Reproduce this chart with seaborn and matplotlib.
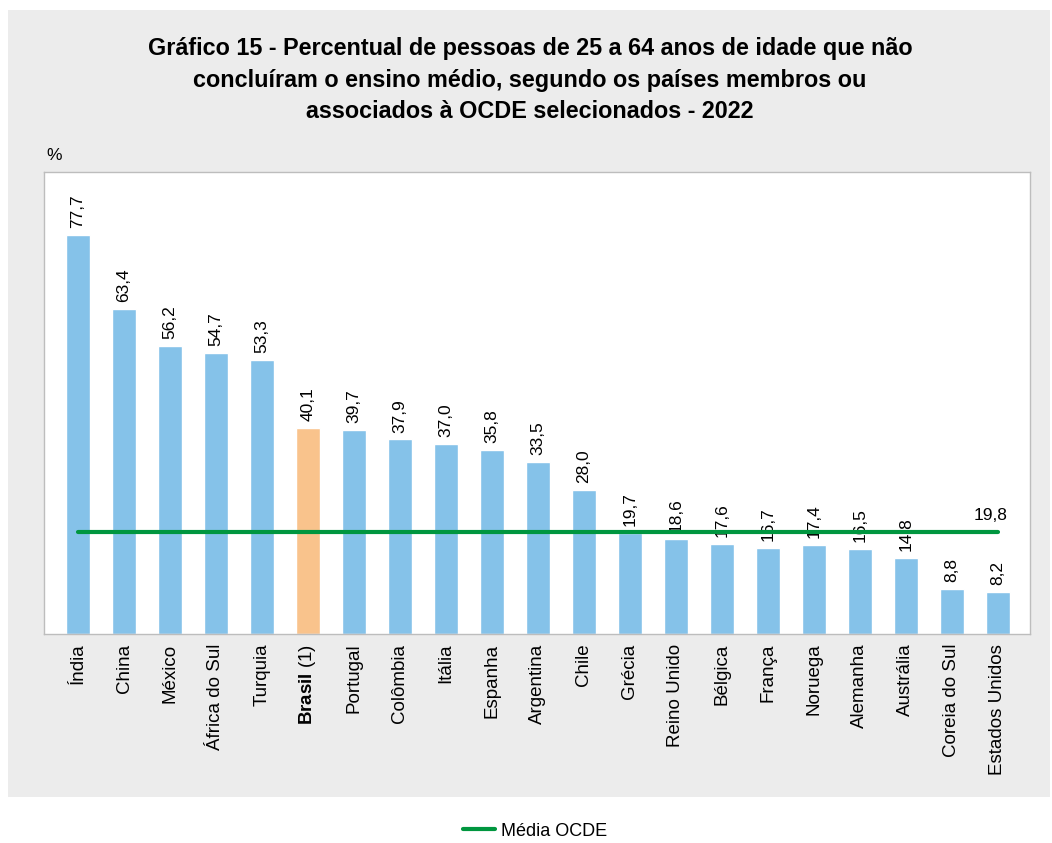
import matplotlib
matplotlib.use("Agg")
import matplotlib.pyplot as plt
from matplotlib.patches import Rectangle
from matplotlib.lines import Line2D
import pandas as pd
import seaborn as sns

paises = ["Índia", "China", "México", "África do Sul", "Turquia", "Brasil", "Portugal",
          "Colômbia", "Itália", "Espanha", "Argentina", "Chile", "Grécia", "Reino Unido",
          "Bélgica", "França", "Noruega", "Alemanha", "Austrália", "Coreia do Sul",
          "Estados Unidos"]
percentual = [77.7, 63.4, 56.2, 54.7, 53.3, 40.1, 39.7, 37.9, 37.0, 35.8, 33.5, 28.0,
              19.7, 18.6, 17.6, 16.7, 17.4, 16.5, 14.8, 8.8, 8.2]
media_ocde = 19.8
titulo = ("Gráfico 15 - Percentual de pessoas de 25 a 64 anos de idade que não\n"
          "concluíram o ensino médio, segundo os países membros ou\n"
          "associados à OCDE selecionados - 2022")

df = pd.DataFrame({"pais": paises, "valor": percentual})

sns.set_style("white")
plt.rcParams["font.family"] = ["Liberation Sans", "DejaVu Sans"]
plt.rcParams["text.color"] = "black"
plt.rcParams["xtick.color"] = "black"
plt.rcParams["mathtext.fontset"] = "custom"
plt.rcParams["mathtext.bf"] = "Liberation Sans:bold"
plt.rcParams["mathtext.rm"] = "Liberation Sans"

azul = "#85C2E9"
laranja = "#F9C38C"
verde = "#00963F"

fig = plt.figure(figsize=(10.52, 8.43), dpi=100)
fig.patches.append(Rectangle((8 / 1052, 1 - 797 / 843), 1042 / 1052, 787 / 843,
                             transform=fig.transFigure, facecolor="#ECECEC",
                             edgecolor="none", zorder=-10))

ax = fig.add_axes([44 / 1052, 1 - 634 / 843, 986 / 1052, 462 / 843])
cores = {p: (laranja if p == "Brasil" else azul) for p in df["pais"]}
sns.barplot(data=df, x="pais", y="valor", hue="pais", palette=cores, width=0.52,
            legend=False, ax=ax, saturation=1)

for cont, v in zip(ax.containers, df["valor"]):
    ax.bar_label(cont, labels=[f"{v:.1f}".replace(".", ",")], rotation=90,
                 padding=5, fontsize=12.5, color="black")

n = len(df)
sns.lineplot(x=[0, n - 1], y=[media_ocde, media_ocde], color=verde, linewidth=3,
             ax=ax, zorder=3)
ax.text(n - 1 - 0.15, media_ocde + 1.9, f"{media_ocde:.1f}".replace(".", ","),
        ha="center", va="bottom", fontsize=12.5)

ax.set_xlim(-0.74, n - 0.3)
ax.set_ylim(0, 90)
ax.set_yticks([])
ax.set_xlabel("")
ax.set_ylabel("")
labels = [r"$\bf{Brasil}$ (1)" if p == "Brasil" else p for p in df["pais"]]
ax.set_xticks(range(n))
ax.set_xticklabels(labels, rotation=90, fontsize=13.5)
ax.tick_params(axis="x", length=0, pad=7)
for s in ax.spines.values():
    s.set_color("#BDBDBD")
    s.set_linewidth(1)

fig.text(530 / 1052, 1 - 80 / 843, titulo, ha="center", va="center", fontsize=16.8,
         fontweight="bold", linespacing=1.45)
fig.text(46 / 1052, 1 - 155 / 843, "%", ha="left", va="center", fontsize=12.5)

fig.legend(handles=[Line2D([], [], color=verde, linewidth=3, label="Média OCDE")],
           loc="center", bbox_to_anchor=(535 / 1052, 1 - 831 / 843), frameon=False,
           fontsize=13, handlelength=1.8, handletextpad=0.3)

fig.savefig("out.png", dpi=100)
